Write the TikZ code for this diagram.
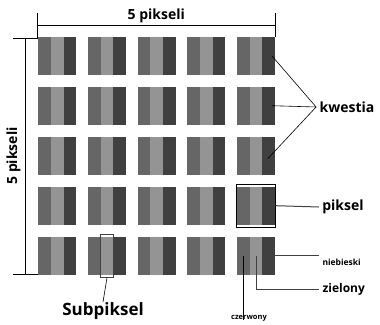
\documentclass[tikz,border=0pt]{standalone}
\usepackage{fontspec}
\setmainfont{Open Sans}
\usepackage{tikz}
\usetikzlibrary{fit}

\definecolor{subA}{HTML}{666666}
\definecolor{subB}{HTML}{949494}
\definecolor{subC}{HTML}{404040}

\begin{document}
\begin{tikzpicture}[
    x=1pt, y=-1pt,
    every node/.style={font=\bfseries},
    stripe/.style={rectangle, inner sep=0pt, minimum width=12.67pt, minimum height=38pt},
    frame/.style={draw, thick, inner xsep=0pt, inner ysep=2.5pt},
    line/.style={draw=black, line width=0.6pt},
    gline/.style={draw=black!75, line width=1pt}
]
\useasboundingbox (0,0) rectangle (380,324);

% Pixels
\foreach \c in {1,...,5} {
  \foreach \r in {1,...,5} {
    \node[stripe, fill=subA] (s-\c-\r-1) at ({38.3+49.7*(\c-1)+6.33}, {36.7+50*(\r-1)+19}) {};
    \node[stripe, fill=subB] (s-\c-\r-2) at ({38.3+49.7*(\c-1)+19}, {36.7+50*(\r-1)+19}) {};
    \node[stripe, fill=subC] (s-\c-\r-3) at ({38.3+49.7*(\c-1)+31.67}, {36.7+50*(\r-1)+19}) {};
  }
}

% Boxes
\node[frame, fit=(s-5-4-1)(s-5-4-3)] (pixbox) {};
\node[frame, draw=black!75, fit=(s-2-5-2)] (subbox) {};

% Labels
\node[font=\bfseries\fontsize{14}{14}\selectfont] (kwestia) at (347,107) {kwestia};
\node[font=\bfseries\fontsize{14}{14}\selectfont] (piksel) at (343,207) {piksel};
\node[font=\bfseries\fontsize{8.5}{8.5}\selectfont, anchor=west] (nieb) at (319,262) {niebieski};
\node[font=\bfseries\fontsize{12}{12}\selectfont, anchor=west] (ziel) at (319,289) {zielony};
\node[font=\bfseries\fontsize{7.5}{7.5}\selectfont] (czer) at (249,318) {czerwony};
\node[font=\bfseries\fontsize{17}{17}\selectfont] (subpx) at (103,311) {Subpiksel};

% Dimensions
\coordinate (topL) at (37.5,25);
\coordinate (topR) at (275,25);
\coordinate (leftT) at (25,38);
\coordinate (leftB) at (25,274);
\draw[line] (topL) -- node[above=-1pt, font=\bfseries\fontsize{14}{14}\selectfont] (topdim) {5 pikseli} (topR);
\draw[line] (37.5,13) -- (37.5,38);
\draw[line] (275,13) -- (275,37);
\draw[line] (leftT) -- node[above=-1pt, sloped, rotate=180, font=\bfseries\fontsize{14}{14}\selectfont] (leftdim) {5 pikseli} (leftB);
\draw[line] (13,38) -- (37.5,38);
\draw[line] (13,274) -- (38,274);

% Connectors
\draw[line] ([xshift=3pt]s-5-1-3.center) -- (kwestia.west);
\draw[line] ([xshift=3pt]s-5-2-3.center) -- (kwestia.west);
\draw[line] ([xshift=-1pt,yshift=-3pt]s-5-3-3.center) -- (kwestia.west);
\draw[gline] (pixbox.east) -- (piksel.west);
\draw[gline] (s-5-5-3.center) -- (nieb.west |- s-5-5-3.center);
\draw[gline] (s-5-5-2.center) |- (ziel.west);
\draw[line] (s-5-5-1.center) -- ([yshift=-9pt]czer.north -| s-5-5-1.center);
\draw[line] (subbox.south) -- ([yshift=-3pt]subpx.north);
\end{tikzpicture}
\end{document}
